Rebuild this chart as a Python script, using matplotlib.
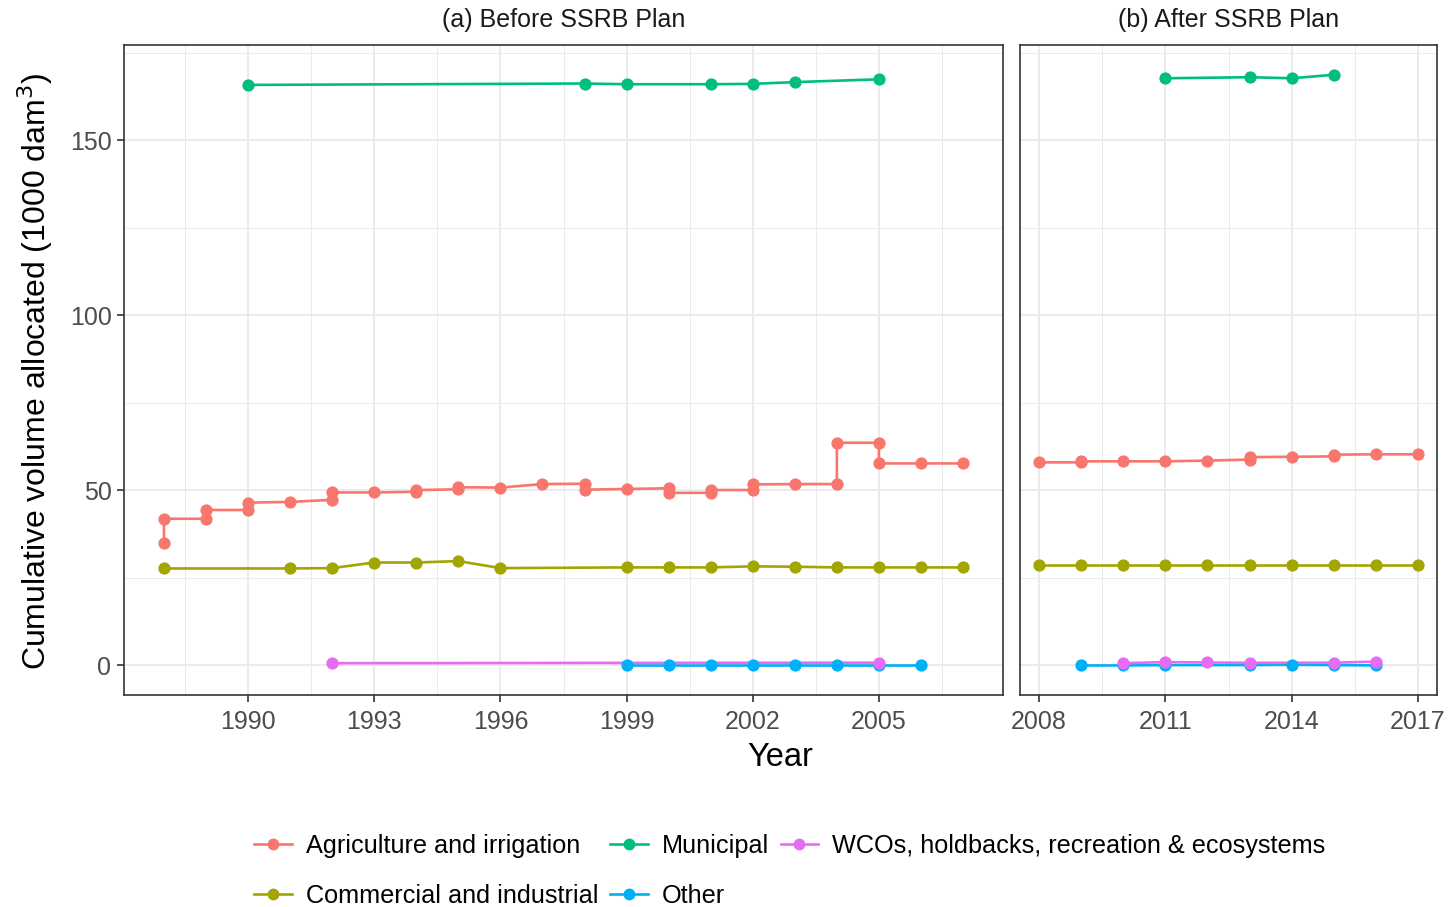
import matplotlib

matplotlib.use("Agg")
import matplotlib.pyplot as plt
from matplotlib.lines import Line2D
from matplotlib.ticker import FixedLocator

plt.rcParams["font.family"] = ["Liberation Sans", "DejaVu Sans"]

# cumulative allocations (1000 dam^3); repeated years give the vertical steps
agri_pre_years = [1988, 1988, 1989, 1989, 1990, 1990, 1991, 1992, 1992, 1993,
                  1994, 1994, 1995, 1995, 1996, 1997, 1998, 1998, 1999, 2000,
                  2000, 2001, 2001, 2002, 2002, 2003, 2004, 2004, 2005, 2005,
                  2006, 2007]
agri_pre_vals = [35.1, 41.9, 41.9, 44.4, 44.4, 46.5, 46.7, 47.3, 49.4, 49.4,
                 49.6, 50.1, 50.3, 50.9, 50.8, 51.8, 51.9, 50.2, 50.4, 50.6,
                 49.3, 49.3, 50.1, 50.1, 51.7, 51.8, 51.8, 63.6, 63.6, 57.7,
                 57.7, 57.7]
comm_pre_years = [1988, 1991, 1992, 1993, 1994, 1995, 1996, 1999, 2000, 2001,
                  2002, 2003, 2004, 2005, 2006, 2007]
comm_pre_vals = [27.7, 27.7, 27.8, 29.4, 29.4, 29.8, 27.8, 28.0, 28.0, 28.0,
                 28.3, 28.2, 28.0, 28.0, 28.0, 28.0]
muni_pre_years = [1990, 1998, 1999, 2001, 2002, 2003, 2005]
muni_pre_vals = [165.8, 166.2, 166.0, 166.0, 166.1, 166.6, 167.4]
other_pre_years = [1999, 2000, 2001, 2002, 2003, 2004, 2005, 2006]
other_pre_vals = [0.1, 0.1, 0.1, 0.1, 0.1, 0.1, 0.1, 0.1]
wco_pre_years = [1992, 2005]
wco_pre_vals = [0.65, 0.8]

agri_post_years = [2008, 2009, 2009, 2010, 2011, 2012, 2013, 2013, 2014, 2015,
                   2015, 2016, 2017]
agri_post_vals = [58.0, 58.0, 58.3, 58.3, 58.3, 58.5, 58.8, 59.5, 59.6, 59.7,
                  60.2, 60.3, 60.3]
comm_post_years = [2008, 2009, 2010, 2011, 2012, 2013, 2014, 2015, 2016, 2017]
comm_post_vals = [28.6, 28.6, 28.6, 28.6, 28.6, 28.6, 28.6, 28.6, 28.6, 28.6]
muni_post_years = [2011, 2013, 2014, 2015]
muni_post_vals = [167.7, 168.0, 167.7, 168.7]
other_post_years = [2009, 2010, 2011, 2013, 2014, 2015, 2016]
other_post_vals = [0.0, 0.0, 0.1, 0.1, 0.2, 0.1, 0.0]
wco_post_years = [2010, 2011, 2012, 2013, 2015, 2016]
wco_post_vals = [0.65, 0.95, 0.85, 0.75, 0.8, 1.1]

sectors = ["Agriculture and irrigation", "Commercial and industrial",
           "Municipal", "Other", "WCOs, holdbacks, recreation & ecosystems"]
colors = ["#F8766D", "#A3A500", "#00BF7D", "#00B0F6", "#E76BF3"]

pre = [(agri_pre_years, agri_pre_vals), (comm_pre_years, comm_pre_vals),
       (muni_pre_years, muni_pre_vals), (other_pre_years, other_pre_vals),
       (wco_pre_years, wco_pre_vals)]
post = [(agri_post_years, agri_post_vals), (comm_post_years, comm_post_vals),
        (muni_post_years, muni_post_vals), (other_post_years, other_post_vals),
        (wco_post_years, wco_post_vals)]

W, H = 1448, 907
fig = plt.figure(figsize=(W / 100, H / 100), dpi=100)
ax1 = fig.add_axes([124 / W, 1 - 695 / H, 879 / W, 650 / H])
ax2 = fig.add_axes([1020 / W, 1 - 695 / H, 417 / W, 650 / H], sharey=ax1)

LW, MS = 1.9, 7.8
for ax, series in ((ax1, pre), (ax2, post)):
    for (x, y), c in zip(series, colors):
        ax.plot(x, y, color=c, lw=LW, zorder=3)
    for (x, y), c in zip(series, colors):
        ax.plot(x, y, ls="none", marker="o", ms=MS, color=c, mec=c, zorder=4)

ax1.set_xlim(1987.05, 2007.95)
ax2.set_xlim(2007.55, 2017.45)
ax1.set_ylim(-8.44, 177.2)

ax1.xaxis.set_major_locator(FixedLocator([1990, 1993, 1996, 1999, 2002, 2005]))
ax1.xaxis.set_minor_locator(FixedLocator([1988.5, 1991.5, 1994.5, 1997.5,
                                          2000.5, 2003.5, 2006.5]))
ax2.xaxis.set_major_locator(FixedLocator([2008, 2011, 2014, 2017]))
ax2.xaxis.set_minor_locator(FixedLocator([2009.5, 2012.5, 2015.5]))
ax1.yaxis.set_major_locator(FixedLocator([0, 50, 100, 150]))
ax1.yaxis.set_minor_locator(FixedLocator([25, 75, 125, 175]))

for ax in (ax1, ax2):
    ax.grid(True, which="major", color="#EBEBEB", lw=1.4, zorder=0)
    ax.grid(True, which="minor", color="#EBEBEB", lw=0.7, zorder=0)
    ax.set_axisbelow(True)
    for s in ax.spines.values():
        s.set_color("#333333")
        s.set_linewidth(1.2)
    ax.tick_params(which="major", length=5, width=1.2, color="#333333",
                   labelsize=18, labelcolor="#4D4D4D", pad=4)
    ax.tick_params(axis="x", which="major", pad=6)
    ax.tick_params(which="minor", length=0)
ax2.tick_params(axis="y", which="both", left=False, labelleft=False)

ax1.text(0.5, 1 + 25 / 650, "(a) Before SSRB Plan", transform=ax1.transAxes,
         ha="center", va="center", fontsize=18, color="#1A1A1A")
ax2.text(0.5, 1 + 25 / 650, "(b) After SSRB Plan", transform=ax2.transAxes,
         ha="center", va="center", fontsize=18, color="#1A1A1A")

fig.text(780 / W, 1 - 758 / H, "Year", ha="center", va="center", fontsize=23.5)
fig.text(35 / W, 1 - 371 / H, r"Cumulative volume allocated (1000 dam$^3$)",
         ha="center", va="center", rotation=90, fontsize=23)

handles = [Line2D([], [], color=c, lw=LW, marker="o", ms=7.5) for c in colors]
fig.legend(handles, sectors, loc="center", bbox_to_anchor=(790 / W, 1 - 871 / H),
           ncol=3, frameon=False, fontsize=18.2, handlelength=1.5,
           handletextpad=0.55, columnspacing=0.45, labelspacing=1.05)

fig.savefig("out.png", dpi=100)
